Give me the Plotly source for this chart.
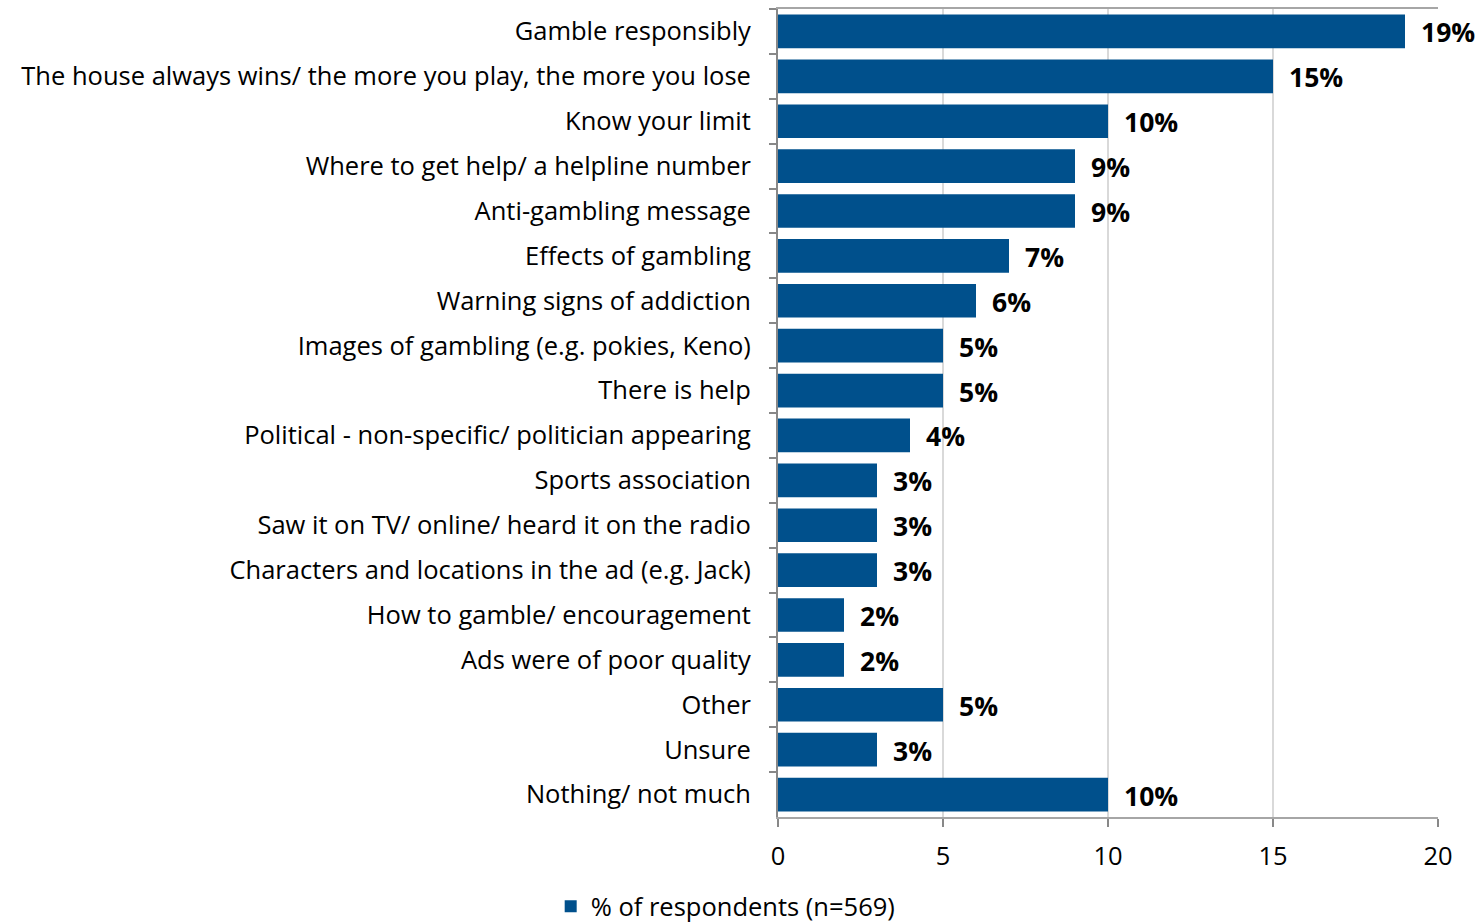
import plotly.graph_objects as go

categories = [
    "Gamble responsibly",
    "The house always wins/ the more you play, the more you lose",
    "Know your limit",
    "Where to get help/ a helpline number",
    "Anti-gambling message",
    "Effects of gambling",
    "Warning signs of addiction",
    "Images of gambling (e.g. pokies, Keno)",
    "There is help",
    "Political - non-specific/ politician appearing",
    "Sports association",
    "Saw it on TV/ online/ heard it on the radio",
    "Characters and locations in the ad (e.g. Jack)",
    "How to gamble/ encouragement",
    "Ads were of poor quality",
    "Other",
    "Unsure",
    "Nothing/ not much",
]
values = [19, 15, 10, 9, 9, 7, 6, 5, 5, 4, 3, 3, 3, 2, 2, 5, 3, 10]
series_name = "% of respondents (n=569)"
x_ticks = [0, 5, 10, 15, 20]

BAR = "#00508C"
FONT = "Open Sans, Noto Sans, sans-serif"
LABEL_SIZE = 25.5

fig = go.Figure()
fig.add_trace(go.Bar(
    y=categories,
    x=values,
    orientation="h",
    name=series_name,
    marker=dict(color=BAR, line=dict(width=0)),
    showlegend=True,
))

for c, v in zip(categories, values):
    fig.add_annotation(
        x=v, y=c, text=f"<b>{v}%</b>", showarrow=False,
        xanchor="left", yanchor="middle", xshift=14, yshift=-1,
        font=dict(family=FONT, size=26.5, color="black"),
    )

fig.update_layout(
    width=1481, height=924,
    margin=dict(l=778, r=43, t=9, b=107, autoexpand=False),
    paper_bgcolor="white", plot_bgcolor="white",
    bargap=0.25,
    font=dict(family=FONT, size=LABEL_SIZE, color="black"),
    legend=dict(
        orientation="h", x=0.49, xanchor="center", xref="container",
        y=-0.111, yanchor="middle", yref="paper",
        font=dict(family=FONT, size=LABEL_SIZE, color="black"),
        itemwidth=30,
    ),
    xaxis=dict(
        range=[0, 20], tickvals=x_ticks, ticks="outside", ticklen=8,
        tickcolor="#888888", tickwidth=2,
        showgrid=True, gridcolor="#D9D9D9", gridwidth=2,
        showline=True, linecolor="#A6A6A6", linewidth=2, mirror=True,
        zeroline=False, tickfont=dict(size=LABEL_SIZE),
        ticklabelstandoff=7,
    ),
    yaxis=dict(
        autorange="reversed", type="category",
        ticks="outside", tickson="boundaries", ticklen=7,
        tickcolor="#888888", tickwidth=2,
        showline=True, linecolor="#888888", linewidth=2,
        showgrid=False, ticklabelstandoff=20,
        tickfont=dict(size=LABEL_SIZE),
    ),
)

fig.write_html("out.html")
